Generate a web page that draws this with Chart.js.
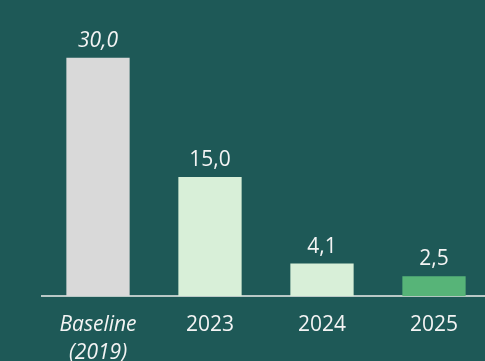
<!DOCTYPE html>
<html>
<head>
<meta charset="utf-8">
<script src="https://cdn.jsdelivr.net/npm/chart.js@4"></script>
<style>
    html, body { margin: 0; padding: 0; overflow: hidden; background: #1e5957; }
    #wrap { width: 490px; height: 361px; }
</style>
</head>
<body>
<div id="wrap"><canvas id="savingsChart"></canvas></div>
<script>
const categories = [['Baseline', '(2019)'], '2023', '2024', '2025'];
const values = [30.0, 15.0, 4.1, 2.5];
const valueLabels = ['30,0', '15,0', '4,1', '2,5'];
const barColors = ['#d9d9d9', '#d8efd8', '#d8efd8', '#57b478'];

const textColor = '#f4f4f4';
const fontFamily = '"Open Sans", sans-serif';

// value labels above each bar
const barLabels = {
    id: 'barLabels',
    afterDatasetsDraw(chart) {
        const ctx = chart.ctx;
        const meta = chart.getDatasetMeta(0);
        ctx.save();
        ctx.fillStyle = textColor;
        ctx.textAlign = 'center';
        ctx.textBaseline = 'alphabetic';
        meta.data.forEach((bar, i) => {
            ctx.font = (i === 0 ? 'italic ' : '') + '21px ' + fontFamily;
            ctx.fillText(valueLabels[i], bar.x, bar.y - 11);
        });
        ctx.restore();
    },
};

function PopulateChart() {
    let ctx = document.getElementById('savingsChart').getContext('2d');

    new Chart(ctx, {
        type: 'bar',
        data: {
            labels: categories,
            datasets: [
                {
                    data: values,
                    backgroundColor: barColors,
                    borderWidth: 0,
                    categoryPercentage: 1,
                    barPercentage: 0.565,
                },
            ],
        },
        plugins: [barLabels],
        options: {
            responsive: true,
            maintainAspectRatio: false,
            animation: false,
            layout: {
                padding: { top: 18, left: 42, right: 0, bottom: -21 },
            },
            plugins: {
                legend: { display: false },
                tooltip: { enabled: false },
            },
            scales: {
                x: {
                    grid: { display: false, drawTicks: false },
                    border: { display: true, color: '#b9c8c6', width: 2 },
                    ticks: {
                        color: textColor,
                        padding: 15,
                        maxRotation: 0,
                        font: c => ({
                            family: fontFamily,
                            size: 21,
                            style: c.index === 0 ? 'italic' : 'normal',
                            lineHeight: 1.33,
                        }),
                    },
                },
                y: {
                    display: false,
                    min: 0,
                    max: 35,
                },
            },
        },
    });
}

PopulateChart();
</script>
</body>
</html>
